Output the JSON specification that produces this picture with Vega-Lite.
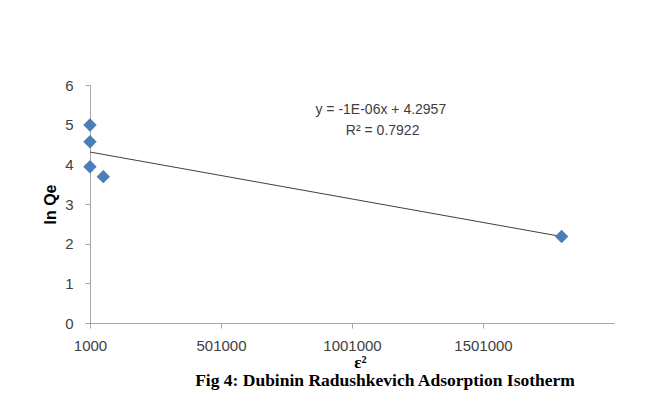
{
  "$schema": "https://vega.github.io/schema/vega-lite/v6.json",
  "autosize": {"type": "none"},
  "width": 524,
  "height": 238,
  "padding": {"left": 90, "top": 85, "right": 42, "bottom": 87},
  "background": "white",
  "config": {"view": {"stroke": null}},
  "title": {
    "text": "Fig 4: Dubinin  Radushkevich Adsorption Isotherm",
    "orient": "bottom",
    "anchor": "middle",
    "dx": 33,
    "offset": 2,
    "font": "Liberation Serif",
    "fontWeight": "bold",
    "fontSize": 17.5,
    "color": "#000000"
  },
  "datasets": {
    "pts": [
      {"x": 1000, "y": 4.99},
      {"x": 1000, "y": 4.57},
      {"x": 1000, "y": 3.94},
      {"x": 51800, "y": 3.69},
      {"x": 1801000, "y": 2.18}
    ],
    "trend": [
      {"x": 1000, "y": 4.31},
      {"x": 1801000, "y": 2.18}
    ],
    "eq": [
      {"x": 1111000, "y": 5.37, "t": "y = -1E-06x + 4.2957"},
      {"x": 1118000, "y": 4.84, "t": "R² = 0.7922"}
    ]
  },
  "encoding": {
    "x": {
      "field": "x", "type": "quantitative",
      "scale": {"domain": [1000, 2001000], "nice": false, "zero": false},
      "axis": {
        "values": [1000, 501000, 1001000, 1501000],
        "format": "d",
        "grid": false,
        "labelFlush": false,
        "labelOverlap": false,
        "domainColor": "#A6A6A6",
        "tickColor": "#A6A6A6",
        "tickSize": 5,
        "labelFont": "Liberation Sans",
        "labelFontSize": 15,
        "labelColor": "#404040",
        "labelPadding": 10,
        "title": "ε²",
        "titleFont": "Liberation Serif",
        "titleFontWeight": "bold",
        "titleFontSize": 17,
        "titleColor": "#000000",
        "titlePadding": 1,
        "titleX": 270
      }
    },
    "y": {
      "field": "y", "type": "quantitative",
      "scale": {"domain": [0, 6], "nice": false, "zero": true},
      "axis": {
        "values": [0, 1, 2, 3, 4, 5, 6],
        "tickCount": 7,
        "grid": false,
        "labelOverlap": false,
        "labelFlush": false,
        "domainColor": "#A6A6A6",
        "tickColor": "#A6A6A6",
        "tickSize": 5,
        "labelFont": "Liberation Sans",
        "labelFontSize": 15,
        "labelColor": "#404040",
        "labelPadding": 12,
        "title": "ln Qe",
        "titleFont": "Liberation Sans",
        "titleFontWeight": "bold",
        "titleFontSize": 16,
        "titleColor": "#000000",
        "titlePadding": 6
      }
    }
  },
  "layer": [
    {
      "data": {"name": "trend"},
      "mark": {"type": "line", "color": "#404040", "strokeWidth": 1}
    },
    {
      "data": {"name": "pts"},
      "mark": {"type": "point", "shape": "diamond", "filled": true, "size": 180, "color": "#4A7EBB", "opacity": 1}
    },
    {
      "data": {"name": "eq"},
      "mark": {"type": "text", "font": "Liberation Sans", "fontSize": 14, "color": "#404040", "align": "center", "baseline": "middle"},
      "encoding": {
        "text": {"field": "t"}
      }
    }
  ]
}
